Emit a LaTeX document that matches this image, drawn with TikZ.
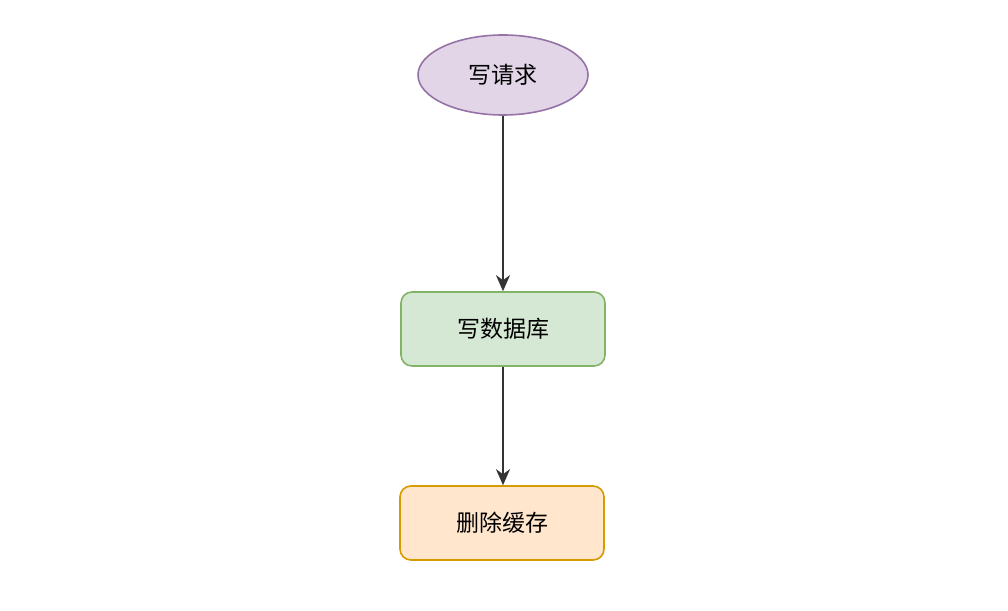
\documentclass[tikz,border=0pt]{standalone}
\usepackage{fontspec}
\newfontfamily\cjk{Noto Sans CJK SC}
\usetikzlibrary{shapes.geometric,arrows.meta}
\definecolor{pfill}{HTML}{E1D5E7}
\definecolor{pdraw}{HTML}{9673A6}
\definecolor{gfill}{HTML}{D5E8D4}
\definecolor{gdraw}{HTML}{82B366}
\definecolor{ofill}{HTML}{FFE6CC}
\definecolor{odraw}{HTML}{D79B00}
\definecolor{edgec}{HTML}{333333}
\tikzset{
  lbl/.style={font=\cjk\fontsize{23}{27}\selectfont, text=black, inner sep=0pt},
  oval/.style={lbl, ellipse, draw=pdraw, fill=pfill, line width=1.6pt, minimum width=170pt, minimum height=80pt},
  box/.style={lbl, rectangle, rounded corners=11pt, line width=1.6pt, minimum width=204pt, minimum height=74pt},
  conn/.style={draw=edgec, line width=2pt, -{Stealth[length=16pt, width=14pt, inset=5pt]}}
}
\begin{document}
\begin{tikzpicture}[x=1pt,y=1pt]
\useasboundingbox (0,0) rectangle (1008,610);
\fill[white] (0,0) rectangle (1008,610);
\node[oval] (req) at (503,535) {写请求};
\node[box, draw=gdraw, fill=gfill] (db) at (503,281) {写数据库};
\node[box, draw=odraw, fill=ofill] (cache) at (502,87) {删除缓存};
\draw[conn] (req) -- (db);
\draw[conn] (db.south) -- (db.south |- cache.north);
\end{tikzpicture}
\end{document}
